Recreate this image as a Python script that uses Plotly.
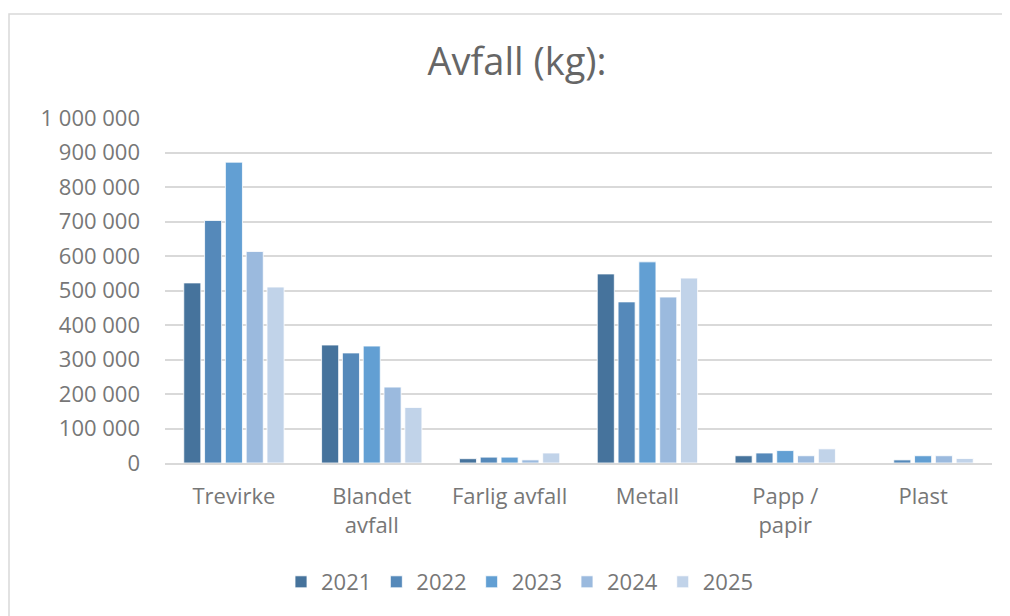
import plotly.graph_objects as go

categories = ["Trevirke", "Blandet<br>avfall", "Farlig avfall", "Metall", "Papp /<br>papir", "Plast"]
years = ["2021", "2022", "2023", "2024", "2025"]
v2021 = [522000, 342000, 12500, 548000, 21000, 0]
v2022 = [703000, 319000, 17000, 467000, 29000, 9000]
v2023 = [872000, 339000, 17000, 583000, 36000, 21000]
v2024 = [613000, 220000, 9000, 481000, 21000, 21000]
v2025 = [510000, 161000, 29000, 536000, 41000, 13000]
series = [v2021, v2022, v2023, v2024, v2025]
colors = ["#46739c", "#5589ba", "#629fd3", "#9bbade", "#c1d3e9"]

FONT = "Open Sans"
GREY = "#777777"

fig = go.Figure()
for y, vals, c in zip(years, series, colors):
    fig.add_trace(go.Bar(name=y, x=categories, y=vals,
                         marker=dict(color=c, line=dict(color="white", width=0.8))))

OFF = 8  # page offset of the figure
W, H = 1010 - OFF, 616 - OFF
# target plot area in screen coordinates: x 165..992, y 118..463
L, R, T, B = 165 - OFF, 1010 - 992, 118 - OFF, 616 - 463
pw = W - L - R
ph = H - T - B

def px(x):
    return (x - OFF - L) / pw

def py(y):
    return (T + ph - (y - OFF)) / ph

fig.update_layout(
    width=W, height=H,
    margin=dict(l=L, r=R, t=T, b=B),
    paper_bgcolor="white", plot_bgcolor="white",
    separators=", ",
    barmode="group", bargap=0.245, bargroupgap=0.18,
    font=dict(family=FONT, color=GREY, size=22),
    title=dict(text="Avfall (kg):", x=(517 - OFF) / W, xref="container", xanchor="center",
               y=1 - (62 - OFF) / H, yref="container", yanchor="middle",
               font=dict(family=FONT, size=38, color="#666666")),
    legend=dict(orientation="h", x=px(520), xanchor="center", y=py(582), yanchor="middle",
                font=dict(family=FONT, size=22, color=GREY), itemwidth=30, traceorder="normal"),
    xaxis=dict(showgrid=False, showline=True, linecolor="#d9d9d9", linewidth=1.5,
               tickfont=dict(family=FONT, size=22, color=GREY), ticks="", ticklabelstandoff=13),
    yaxis=dict(range=[0, 1000000], dtick=100000, tickformat=",d", showgrid=True,
               gridcolor="#d9d9d9", gridwidth=1.5, zeroline=False, showline=False,
               tickfont=dict(family=FONT, size=22, color=GREY), ticklabelstandoff=24),
    shapes=[dict(type="rect", xref="paper", yref="paper",
                 x0=px(9), x1=px(1040), y0=py(650), y1=py(14),
                 line=dict(color="#d9d9d9", width=1.5), fillcolor="rgba(0,0,0,0)", layer="below")],
)

fig.write_html("out.html")
